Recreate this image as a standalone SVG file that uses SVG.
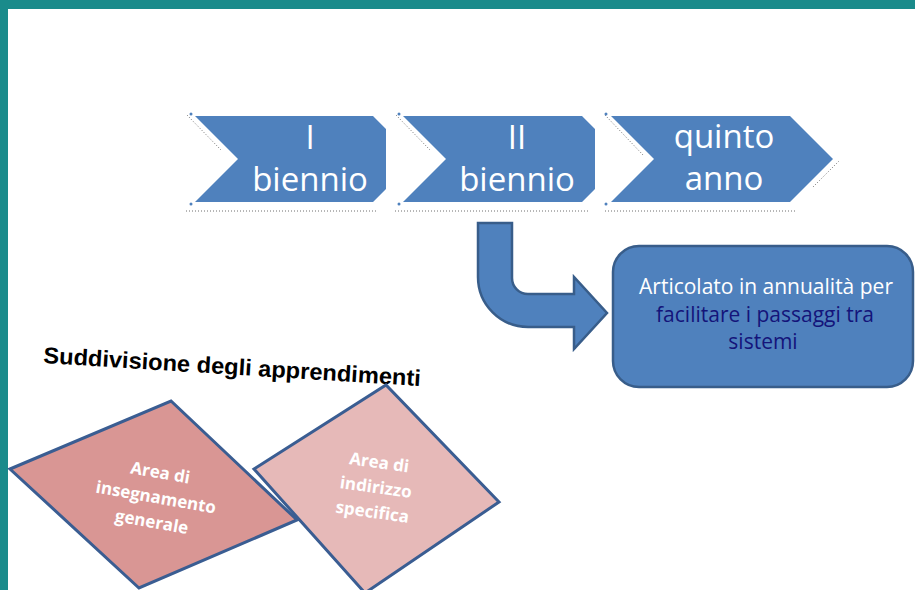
<svg xmlns="http://www.w3.org/2000/svg" width="915" height="590" viewBox="0 0 915 590">
<style>
.chev{fill:#4f81bd}
.ct{font-family:"Open Sans","Liberation Sans",sans-serif;font-size:33px;fill:#ffffff;text-anchor:middle}
.dots{fill:none;stroke:#6e6e6e;stroke-width:1;stroke-dasharray:1 2}
.hdl{fill:#4f81bd}
.bt{font-family:"Open Sans","Liberation Sans",sans-serif;font-size:21px;text-anchor:middle}
.dt{font-family:"Open Sans","Liberation Sans",sans-serif;font-size:17px;font-weight:bold;fill:#ffffff;text-anchor:middle}
.dia{stroke:#3a5d92;stroke-width:3;stroke-linejoin:miter}
</style>
<rect x="0" y="0" width="915" height="590" fill="#ffffff"/>
<rect x="0" y="0" width="915" height="9" fill="#1a8b8b"/>
<rect x="0" y="0" width="8" height="590" fill="#1a8b8b"/>

<g id="chevron-1">
<path class="chev" d="M195,116 L373,116 L386,129 L386,189 L373,202 L195,202 L238,159 Z"/>
<path class="dots" d="M187,115 L221,150 M186,211 L378,211"/>
<circle class="hdl" cx="191" cy="114" r="1.5"/><circle class="hdl" cx="191" cy="204" r="1.5"/>
<text class="ct" x="310" y="149">I</text>
<text class="ct" x="310" y="191">biennio</text>
</g>
<g id="chevron-2">
<path class="chev" d="M403,116 L582,116 L595,129 L595,189 L582,202 L403,202 L446,159 Z"/>
<path class="dots" d="M396,115 L430,150 M395,211 L588,211"/>
<circle class="hdl" cx="399" cy="114" r="1.5"/><circle class="hdl" cx="399" cy="204" r="1.5"/>
<text class="ct" x="517" y="149">II</text>
<text class="ct" x="517" y="191">biennio</text>
</g>
<g id="chevron-3">
<path class="chev" d="M611,116 L790,116 L833,159 L790,202 L611,202 L654,159 Z"/>
<path class="dots" d="M605,115 L643,155 M605,211 L795,211 M813,187 L839,161"/>
<circle class="hdl" cx="606" cy="114" r="1.5"/><circle class="hdl" cx="606" cy="204" r="1.5"/>
<text class="ct" x="724" y="148">quinto</text>
<text class="ct" x="724" y="190">anno</text>
</g>

<g id="connectors">
<path d="M478,223 L478,277 A50,50 0 0 0 528,327 L574,327 L574,349 L607,313 L574,277 L574,294 L528,294 A16,16 0 0 1 512,278 L512,223 Z" fill="#4f81bd" stroke="#385d8a" stroke-width="2.5" stroke-linejoin="miter"/>
</g>

<g id="box">
<rect x="613" y="246" width="300" height="141" rx="26" ry="26" fill="#4f81bd" stroke="#385d8a" stroke-width="2.5"/>
<text class="bt" x="766" y="294" fill="#ffffff">Articolato in annualità per</text>
<text class="bt" x="765" y="321.5" fill="#14147a">facilitare i passaggi tra</text>
<text class="bt" x="763" y="349" fill="#14147a">sistemi</text>
</g>

<g id="title">
<text x="43" y="363" transform="rotate(3.5 43 363)" font-family="'Liberation Sans',Arial,sans-serif" font-size="23" font-weight="bold" fill="#000000" textLength="378" lengthAdjust="spacingAndGlyphs">Suddivisione degli apprendimenti</text>
</g>

<g id="area-generale">
<path class="dia" d="M10,469 L171,401 L297,520 L139,588 Z" fill="#d99694"/>
<g transform="translate(155,503) rotate(10)">
<text class="dt" x="0" y="-25">Area di</text>
<text class="dt" x="0" y="0">insegnamento</text>
<text class="dt" x="0" y="25">generale</text>
</g>
</g>
<g id="area-specifica">
<path class="dia" d="M254,469 L386,385 L499,502 L365,593 Z" fill="#e6b9b8"/>
<g transform="translate(375,493) rotate(8)">
<text class="dt" x="0" y="-25">Area di</text>
<text class="dt" x="0" y="0">indirizzo</text>
<text class="dt" x="0" y="25">specifica</text>
</g>
</g>
</svg>
